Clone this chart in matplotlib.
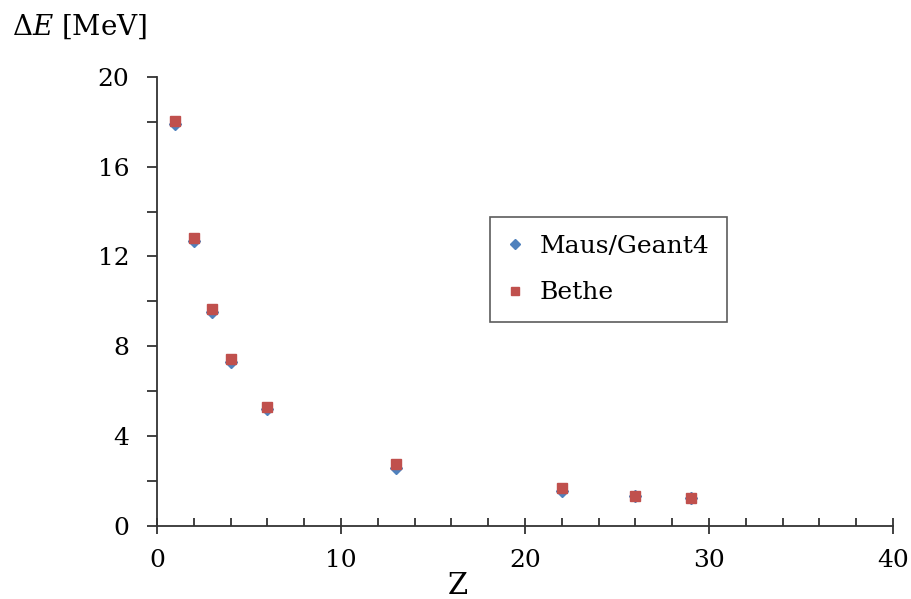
import matplotlib
matplotlib.use("Agg")
import matplotlib.pyplot as plt
from matplotlib.ticker import MultipleLocator

plt.rcParams["font.family"] = "DejaVu Serif"
plt.rcParams["mathtext.fontset"] = "dejavuserif"

# 原子番号とエネルギー損失 [MeV]
z = [1, 2, 3, 4, 6, 13, 22, 26, 29]
de_maus = [17.9, 12.69, 9.52, 7.30, 5.20, 2.57, 1.55, 1.32, 1.23]
de_bethe = [18.04, 12.83, 9.66, 7.43, 5.29, 2.75, 1.67, 1.34, 1.25]

fig = plt.figure(figsize=(9.12, 5.99), dpi=100)
ax = fig.add_axes([0.1722, 0.1224, 0.807, 0.749])

ax.plot(z, de_maus, linestyle="none", marker="D", markersize=6,
        color="#4F81BD", label="Maus/Geant4")
ax.plot(z, de_bethe, linestyle="none", marker="s", markersize=6.5,
        color="#C0504D", label="Bethe")

ax.set_xlim(0, 40)
ax.set_ylim(0, 20)
ax.xaxis.set_major_locator(MultipleLocator(10))
ax.xaxis.set_minor_locator(MultipleLocator(2))
ax.yaxis.set_major_locator(MultipleLocator(4))
ax.yaxis.set_minor_locator(MultipleLocator(2))

for s in ("top", "right"):
    ax.spines[s].set_visible(False)
for s in ("left", "bottom"):
    ax.spines[s].set_color("#333333")
    ax.spines[s].set_linewidth(1.3)

ax.tick_params(axis="x", which="major", direction="inout", length=11,
               width=1.3, color="#333333", labelsize=18, pad=11)
ax.tick_params(axis="x", which="minor", direction="in", length=6,
               width=1.3, color="#333333")
ax.tick_params(axis="y", which="both", direction="out", length=7,
               width=1.3, color="#333333", labelsize=18, pad=13)

fig.text(458 / 912, 1 - 586 / 599, "Z", fontsize=21, ha="center", va="center")
fig.text(0.013, 1 - 27 / 599, r"$\Delta E$ [MeV]", fontsize=20, va="center")

leg = ax.legend(loc="upper left", bbox_to_anchor=(0.4524, 0.688),
                borderaxespad=0, fontsize=18, frameon=True, fancybox=False,
                handlelength=0.6, handletextpad=0.7, labelspacing=0.95,
                borderpad=0.7, markerscale=0.85)
leg.get_frame().set_edgecolor("#333333")
leg.get_frame().set_linewidth(1.2)

fig.savefig("out.png", dpi=100)
